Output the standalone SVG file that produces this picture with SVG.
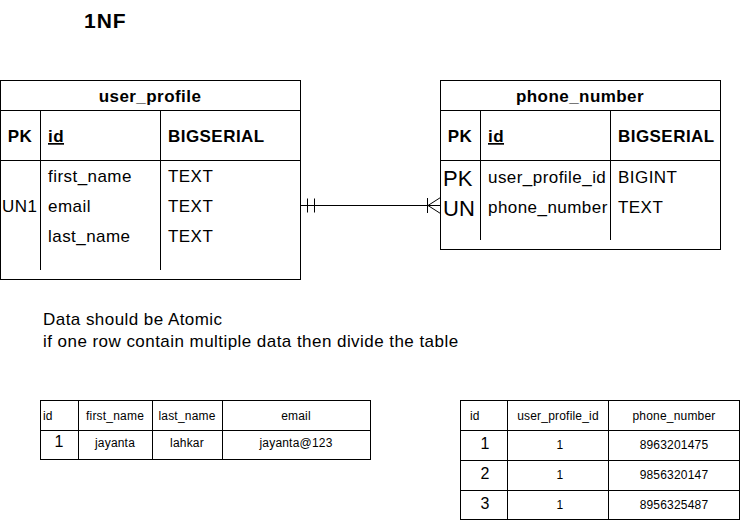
<svg xmlns="http://www.w3.org/2000/svg" width="741" height="521" viewBox="0 0 741 521">
<style>
text{font-family:"Liberation Sans",Arial,sans-serif;fill:#000}
.t{font-size:17px;letter-spacing:0.45px}
.b{font-weight:bold}
.c{text-anchor:middle}
.s{font-size:12px;letter-spacing:0.2px}
.m{font-size:16px}
.ln{stroke:#000;stroke-width:1;fill:none}
.box{stroke:#000;stroke-width:1;fill:#fff}
</style>
<rect width="741" height="521" fill="#fff"/>
<text x="84" y="28" style="font-size:21px;letter-spacing:1px" class="b">1NF</text>

<g id="user_profile">
<rect class="box" x="0.5" y="80.5" width="300" height="199"/>
<path class="ln" d="M0.5 110.5H300.5M0.5 160.5H300.5M40.5 110.5V270M160.5 110.5V270"/>
<text class="t b c" x="150" y="102">user_profile</text>
<text class="t b c" x="20" y="142">PK</text>
<text class="t b" x="48" y="142" text-decoration="underline">id</text>
<text class="t b" x="168" y="142">BIGSERIAL</text>
<text class="t" x="48" y="182">first_name</text>
<text class="t" x="168" y="182">TEXT</text>
<text class="t" x="2" y="212">UN1</text>
<text class="t" x="48" y="212">email</text>
<text class="t" x="168" y="212">TEXT</text>
<text class="t" x="48" y="242">last_name</text>
<text class="t" x="168" y="242">TEXT</text>
</g>

<g id="phone_number">
<rect class="box" x="440.5" y="80.5" width="280" height="169"/>
<path class="ln" d="M440.5 110.5H720.5M440.5 160.5H720.5M480.5 110.5V240M610.5 110.5V240"/>
<text class="t b c" x="580" y="102">phone_number</text>
<text class="t b c" x="460" y="142">PK</text>
<text class="t b" x="488" y="142" text-decoration="underline">id</text>
<text class="t b" x="618" y="142">BIGSERIAL</text>
<text x="443" y="186" style="font-size:22px">PK</text>
<text class="t" x="488" y="183">user_profile_id</text>
<text class="t" x="618" y="183">BIGINT</text>
<text x="443" y="216" style="font-size:22px">UN</text>
<text class="t" x="488" y="213">phone_number</text>
<text class="t" x="618" y="213">TEXT</text>
</g>

<g id="connectors">
<path class="ln" d="M300.5 205.5H440.5"/>
<path class="ln" d="M307.5 198.5V212.5M314.5 198.5V212.5"/>
<path class="ln" d="M427.5 198V213M428 205.5L440.5 197.5M428 205.5L440.5 213.5"/>
</g>

<g id="note">
<text class="t" x="43" y="325">Data should be Atomic</text>
<text class="t" x="43" y="347">if one row contain multiple data then divide the table</text>
</g>

<g id="user_table">
<rect class="box" x="40.5" y="400.5" width="330" height="59"/>
<path class="ln" d="M40.5 430.5H370.5M78.5 400.5V459.5M152.5 400.5V459.5M222.5 400.5V459.5"/>
<text class="s" x="43" y="420">id</text>
<text class="s c" x="115" y="420">first_name</text>
<text class="s c" x="187" y="420">last_name</text>
<text class="s c" x="296" y="420">email</text>
<text class="m c" x="59" y="447">1</text>
<text class="s c" x="115" y="447">jayanta</text>
<text class="s c" x="187" y="447">lahkar</text>
<text class="s c" x="296" y="447">jayanta@123</text>
</g>

<g id="phone_table">
<rect class="box" x="460.5" y="400.5" width="279" height="119"/>
<path class="ln" d="M460.5 430.5H739.5M460.5 460.5H739.5M460.5 490.5H739.5M507.5 400.5V519.5M608.5 400.5V519.5"/>
<text class="s" x="470" y="420">id</text>
<text class="s c" x="558" y="420">user_profile_id</text>
<text class="s c" x="674" y="420">phone_number</text>
<text class="m c" x="485" y="449">1</text>
<text class="s c" x="560" y="449">1</text>
<text class="s c" x="674" y="449">8963201475</text>
<text class="m c" x="485" y="479">2</text>
<text class="s c" x="560" y="479">1</text>
<text class="s c" x="674" y="479">9856320147</text>
<text class="m c" x="485" y="509">3</text>
<text class="s c" x="560" y="509">1</text>
<text class="s c" x="674" y="509">8956325487</text>
</g>
</svg>
